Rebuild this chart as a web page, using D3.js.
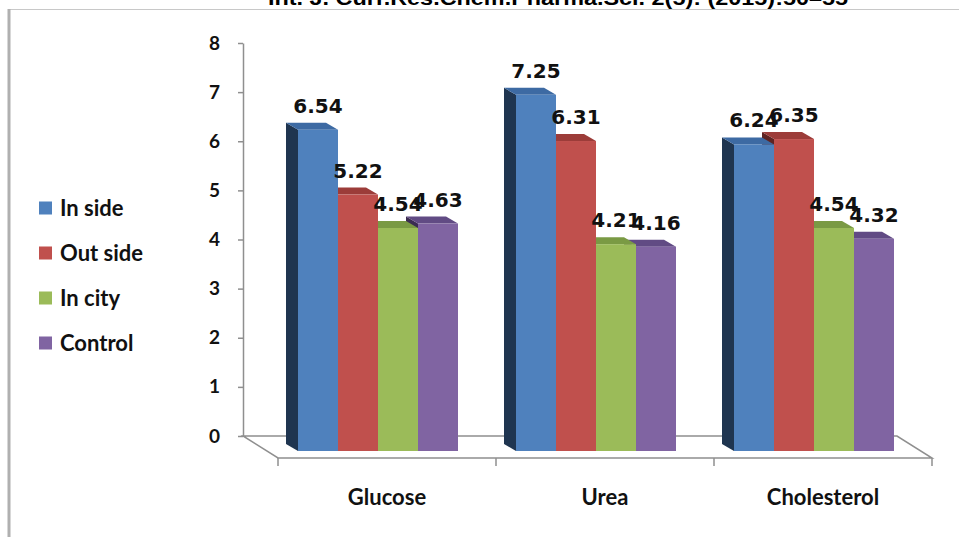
<!DOCTYPE html>
<html>
<head>
<meta charset="utf-8">
<script src="https://cdn.jsdelivr.net/npm/d3@7"></script>
<style>
    body { margin: 0; background: #fff; }
    .axis path, .axis line { stroke: #8f8f8f; stroke-width: 1.5; }
    .axis text { font-family: Lato, sans-serif; font-weight: bold; font-size: 19px; fill: #111; }
    .cat-label { font-family: Lato, sans-serif; font-weight: bold; font-size: 22px; fill: #111; }
    .legend-label { font-family: Lato, sans-serif; font-weight: bold; font-size: 22px; fill: #111; }
    .value-label { font-family: "DejaVu Sans", sans-serif; font-weight: bold; font-size: 20px; fill: #111; }
</style>
</head>
<body>
<svg id="chart"></svg>
<script>
// data
const categories = ['Glucose', 'Urea', 'Cholesterol'];
const seriesNames = ['In side', 'Out side', 'In city', 'Control'];
const inSide = [6.54, 7.25, 6.24];
const outSide = [5.22, 6.31, 6.35];
const inCity = [4.54, 4.21, 4.54];
const control = [4.63, 4.16, 4.32];
const yTicks = [0, 1, 2, 3, 4, 5, 6, 7, 8];

const seriesValues = [inSide, outSide, inCity, control];
const colors = {
    front: ['#4f81bd', '#c0504d', '#9bbb59', '#8064a2'],
    top: ['#3d6aa3', '#9c3c39', '#7a9a44', '#614b84'],
    side: ['#1f3550', '#5e2322', '#4a5e27', '#3b2c52']
};

const width = 959, height = 537;

const svg = d3.select('#chart')
    .attr('width', width)
    .attr('height', height);

// frame and running header (cut by the page top, as in the scan)
svg.append('text')
    .attr('x', 268)
    .attr('y', 5)
    .attr('textLength', 580)
    .attr('lengthAdjust', 'spacingAndGlyphs')
    .style('font-family', 'Liberation Sans, Arial, sans-serif')
    .style('font-weight', 'bold')
    .style('font-size', '20px')
    .text('Int. J. Curr.Res.Chem.Pharma.Sci. 2(5): (2015):50–55');

svg.append('line')
    .attr('x1', 8).attr('x2', width)
    .attr('y1', 9.5).attr('y2', 9.5)
    .attr('stroke', '#c8c8c8');

svg.append('line')
    .attr('x1', 9).attr('x2', 9)
    .attr('y1', 9).attr('y2', height)
    .attr('stroke', '#b0b0b0')
    .attr('stroke-width', 3);

// scales
const y = d3.scaleLinear().domain([0, 8]).range([436, 43]);
const x0 = d3.scaleBand().domain(categories).range([278, 932]);
const x1 = d3.scaleBand().domain(seriesNames).range([0, 160]);

const axisX = 243;
const floorFront = 458;
const barFrontOffset = 15;       // front face sits below the back wall
const depth = { dx: 12, dy: 7 }; // bar depth, drawn up-left

// floor
const xMin = x0.range()[0], xMax = x0.range()[1];
svg.append('path')
    .attr('d', `M${axisX},${y(0)} L${xMax - (xMin - axisX)},${y(0)} L${xMax},${floorFront} L${xMin},${floorFront} Z`)
    .attr('fill', '#fff')
    .attr('stroke', '#8f8f8f')
    .attr('stroke-width', 1.5);

svg.selectAll('.floor-tick')
    .data(categories.map(c => x0(c)).concat([xMax]))
    .join('line')
    .attr('class', 'floor-tick')
    .attr('x1', d => d).attr('x2', d => d)
    .attr('y1', floorFront).attr('y2', floorFront + 8)
    .attr('stroke', '#8f8f8f')
    .attr('stroke-width', 1.5);

// y axis
const yAxis = d3.axisLeft(y)
    .tickValues(yTicks)
    .tickFormat(d3.format('d'))
    .tickSize(5)
    .tickSizeOuter(0)
    .tickPadding(18);

svg.append('g')
    .attr('class', 'axis')
    .attr('transform', `translate(${axisX},0)`)
    .call(yAxis);

// bars, painted right to left so left bars cover the sides of their neighbours
const bars = [];
categories.forEach((cat, ci) => {
    seriesNames.forEach((s, si) => {
        bars.push({ cat, si, value: seriesValues[si][ci] });
    });
});
bars.sort((a, b) => (categories.indexOf(b.cat) - categories.indexOf(a.cat)) || (b.si - a.si));

const barW = x1.bandwidth();
const gBars = svg.append('g');

bars.forEach(d => {
    const xl = x0(d.cat) + 20 + x1(seriesNames[d.si]);
    const xr = xl + barW;
    const yt = y(d.value) + barFrontOffset;
    const yb = y(0) + barFrontOffset;
    const g = gBars.append('g');

    g.append('path')
        .attr('d', `M${xl},${yb} L${xl - depth.dx},${yb - depth.dy} L${xl - depth.dx},${yt - depth.dy} L${xl},${yt} Z`)
        .attr('fill', colors.side[d.si]);

    g.append('path')
        .attr('d', `M${xl},${yt} L${xl - depth.dx},${yt - depth.dy} L${xr - depth.dx},${yt - depth.dy} L${xr},${yt} Z`)
        .attr('fill', colors.top[d.si]);

    g.append('rect')
        .attr('x', xl)
        .attr('y', yt)
        .attr('width', barW)
        .attr('height', yb - yt)
        .attr('fill', colors.front[d.si]);
});

// value labels on top
bars.slice().reverse().forEach(d => {
    const xl = x0(d.cat) + 20 + x1(seriesNames[d.si]);
    svg.append('text')
        .attr('class', 'value-label')
        .attr('x', xl + barW / 2)
        .attr('y', y(d.value) + barFrontOffset - 17)
        .attr('text-anchor', 'middle')
        .text(d.value.toFixed(2));
});

// category labels
svg.selectAll('.cat-label')
    .data(categories)
    .join('text')
    .attr('class', 'cat-label')
    .attr('x', d => x0(d) + x0.bandwidth() / 2)
    .attr('y', 505)
    .attr('text-anchor', 'middle')
    .text(d => d);

// legend
const legend = svg.append('g')
    .attr('transform', 'translate(39,208)');

const items = legend.selectAll('.legend-item')
    .data(seriesNames)
    .join('g')
    .attr('class', 'legend-item')
    .attr('transform', (d, i) => `translate(0,${i * 45})`);

items.append('rect')
    .attr('x', 0)
    .attr('y', -6.5)
    .attr('width', 13)
    .attr('height', 13)
    .attr('fill', (d, i) => colors.front[i]);

items.append('text')
    .attr('class', 'legend-label')
    .attr('x', 21)
    .attr('dy', '0.35em')
    .text(d => d);
</script>
</body>
</html>
